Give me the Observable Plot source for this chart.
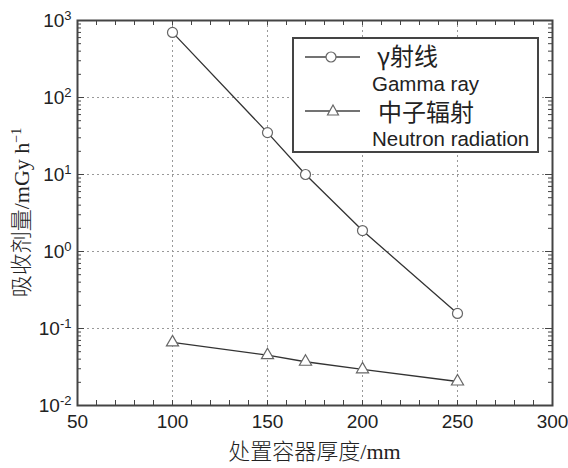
<!DOCTYPE html>
<html><head><meta charset="utf-8">
<script src="https://cdn.jsdelivr.net/npm/d3@7"></script>
<script src="https://cdn.jsdelivr.net/npm/@observablehq/plot@0.6"></script>
<style>
body{margin:0;background:#fff;}
#wrap{position:relative;width:568px;height:468px;}
#legend{position:absolute;left:292px;top:37px;width:243px;height:112px;border:2px solid #444;background:#fff;font-family:"Liberation Sans",Arial,sans-serif;color:#222;}
#legend div{position:absolute;white-space:nowrap;line-height:1;}
</style>
</head><body>
<div id="wrap"><div id="chart"></div>
<div id="legend">
<svg width="243" height="112" style="position:absolute;left:0;top:0">
<line x1="11" x2="66" y1="18" y2="18" stroke="#444" stroke-width="1.3"/>
<circle cx="37" cy="18" r="5" fill="#fff" stroke="#666" stroke-width="1.2"/>
<line x1="11" x2="66" y1="72" y2="72" stroke="#444" stroke-width="1.3"/>
<path d="M39,66 L44.5,76 L33.5,76 Z" fill="#fff" stroke="#666" stroke-width="1.2"/>
</svg>
<div style="left:83px;top:4px;font-size:24px;font-family:'Noto Sans CJK SC';">γ射线</div>
<div style="left:78px;top:35px;font-size:20.5px;">Gamma ray</div>
<div style="left:84px;top:60px;font-size:24px;font-family:'Noto Sans CJK SC';">中子辐射</div>
<div style="left:78px;top:90px;font-size:20.5px;">Neutron radiation</div>
</div>
</div>
<script>
const thickness = [100, 150, 170, 200, 250];
const gammaDose = [700, 35, 10, 1.87, 0.157];
const neutronDose = [0.066, 0.045, 0.037, 0.0295, 0.0205];
const xTicks = [50, 100, 150, 200, 250, 300];
const xGrid = [100, 150, 200, 250];
const yTicks = [1e-2, 1e-1, 1, 10, 100, 1000];
const yExp = ["-2", "-1", "0", "1", "2", "3"];
const yGrid = [1e-1, 1, 10, 100];
const xLabelCJK = "处置容器厚度", xLabelUnit = "/mm";
const yLabelCJK = "吸收剂量", yLabelUnit = "/mGy h", yLabelExp = "−1";

const gamma = thickness.map((t, i) => ({t, v: gammaDose[i]}));
const neutron = thickness.map((t, i) => ({t, v: neutronDose[i]}));
const xMinor = d3.range(50, 301, 10);
const yMinor = [];
for (let e = -2; e < 3; e++) for (let k = 2; k <= 9; k++) yMinor.push(k * Math.pow(10, e));

const W = 568, H = 468, mL = 77, mR = 16, mT = 20, mB = 63;
const ph = H - mT - mB, pw = W - mL - mR;

const plot = Plot.plot({
  width: W, height: H,
  marginLeft: mL, marginRight: mR, marginTop: mT, marginBottom: mB,
  style: {fontFamily: "Liberation Sans, Arial, sans-serif", fontSize: "19px", color: "#222", background: "#fff"},
  x: {domain: [50, 300]},
  y: {type: "log", domain: [1e-2, 1e3]},
  marks: [
    Plot.ruleX(xGrid, {stroke: "#999", strokeDasharray: "2,3", strokeWidth: 1}),
    Plot.ruleY(yGrid, {stroke: "#999", strokeDasharray: "2,3", strokeWidth: 1}),
    Plot.tickX(xMinor, {x: d => d, stroke: "#444", insetTop: ph - 5}),
    Plot.tickX(xMinor, {x: d => d, stroke: "#444", insetBottom: ph - 5}),
    Plot.tickY(yMinor, {y: d => d, stroke: "#444", insetRight: pw - 4}),
    Plot.tickY(yMinor, {y: d => d, stroke: "#444", insetLeft: pw - 4}),
    Plot.tickY(yTicks, {y: d => d, stroke: "#444", insetRight: pw - 7}),
    Plot.tickY(yTicks, {y: d => d, stroke: "#444", insetLeft: pw - 7}),
    Plot.axisX(xTicks, {tickSize: 0, tickPadding: 9, fontSize: 19, label: null}),
    Plot.axisY(yTicks, {tickSize: 0, tickPadding: 6, fontSize: 19, label: null, tickFormat: d => "10"}),
    Plot.frame({stroke: "#444", strokeWidth: 2}),
    Plot.line(gamma, {x: "t", y: "v", stroke: "#333", strokeWidth: 1.3}),
    Plot.line(neutron, {x: "t", y: "v", stroke: "#333", strokeWidth: 1.3}),
    Plot.dot(gamma, {x: "t", y: "v", r: 5, fill: "#fff", stroke: "#666", strokeWidth: 1.2}),
    Plot.dot(neutron, {x: "t", y: "v", r: 4.5, symbol: "triangle", fill: "#fff", stroke: "#666", strokeWidth: 1.2})
  ]
});

const ns = "http://www.w3.org/2000/svg";
function tspan(txt, attrs) {
  const ts = document.createElementNS(ns, "tspan");
  for (const k in attrs) ts.setAttribute(k, attrs[k]);
  ts.textContent = txt;
  return ts;
}

// superscripts on y tick labels
plot.querySelectorAll('g[aria-label="y-axis tick label"] text').forEach((t, i) => {
  t.appendChild(tspan(yExp[i], {dy: "-0.5em", "font-size": "13px"}));
});

// y label (rotated)
const yl = document.createElementNS(ns, "text");
yl.setAttribute("transform", `translate(29,${mT + ph / 2}) rotate(-90)`);
yl.setAttribute("text-anchor", "middle");
yl.setAttribute("font-size", "22px");
yl.setAttribute("fill", "#222");
yl.appendChild(tspan(yLabelCJK, {"font-family": "Noto Sans CJK SC", "font-weight": "300"}));
yl.appendChild(tspan(yLabelUnit, {"font-family": "Liberation Serif"}));
yl.appendChild(tspan(yLabelExp, {dy: "-0.6em", "font-size": "14px", "font-family": "Liberation Serif"}));
plot.appendChild(yl);

// x label
const xl = document.createElementNS(ns, "text");
xl.setAttribute("x", mL + pw / 2);
xl.setAttribute("y", 459);
xl.setAttribute("text-anchor", "middle");
xl.setAttribute("font-size", "22px");
xl.setAttribute("fill", "#222");
xl.appendChild(tspan(xLabelCJK, {"font-family": "Noto Sans CJK SC", "font-weight": "300"}));
xl.appendChild(tspan(xLabelUnit, {"font-family": "Liberation Serif"}));
plot.appendChild(xl);

document.getElementById("chart").appendChild(plot);
</script>
</body></html>
